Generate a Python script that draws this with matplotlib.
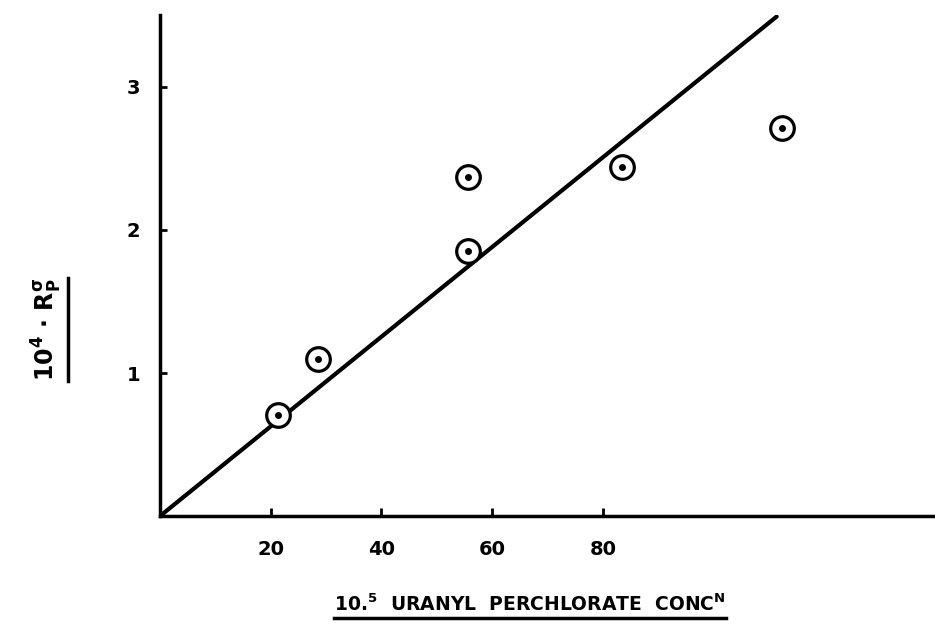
import matplotlib
matplotlib.use("Agg")
import matplotlib.pyplot as plt
from matplotlib.lines import Line2D

# values
conc = [21.3, 28.5, 55.7, 55.7, 83.4, 112.3]   # 10^5 uranyl perchlorate conc
rate = [0.71, 1.10, 2.37, 1.85, 2.44, 2.71]    # 10^4 . Rp
fit_x = [0, 111.4]
fit_y = [0, 3.49]
xticks = [20, 40, 60, 80]
yticks = [1, 2, 3]

plt.rcParams['font.family'] = ['DejaVu Sans']
plt.rcParams['font.weight'] = 'bold'
plt.rcParams['mathtext.default'] = 'bf'

fig = plt.figure(figsize=(9.35, 6.31), dpi=100)
ax = fig.add_axes([0.171, 0.182, 0.829, 0.794])

ax.plot(fit_x, fit_y, color='black', lw=3, solid_capstyle='round')
ax.plot(conc, rate, 'o', ms=17, mfc='white', mec='black', mew=2.3)
ax.plot(conc, rate, 'o', ms=4, color='black')

ax.set_xlim(0, 140)
ax.set_ylim(0, 3.5)
ax.set_xticks(xticks)
ax.set_yticks(yticks)
ax.set_xticklabels([str(t) for t in xticks], fontsize=14, fontweight='bold')
ax.set_yticklabels([str(t) for t in yticks], fontsize=14, fontweight='bold')
ax.tick_params(axis='x', direction='in', length=6, width=2, pad=17)
ax.tick_params(axis='y', direction='in', length=5, width=2, pad=14)

for side in ['top', 'right']:
    ax.spines[side].set_visible(False)
for side in ['left', 'bottom']:
    ax.spines[side].set_linewidth(2.5)

xlab = fig.text(0.567, 0.025, r'10.$^{5}$  URANYL  PERCHLORATE  CONC$^{N}$',
                fontsize=13.5, fontweight='bold', ha='center', va='bottom')
ylab = fig.text(0.05, 0.478, r'10$^{4}$ $\cdot$ R$_{P}^{\sigma}$',
                fontsize=17, fontweight='bold', rotation=90, ha='center', va='center')

# hand-drawn underlines below the axis titles
fig.canvas.draw()
r = fig.canvas.get_renderer()
inv = fig.transFigure.inverted()
bb = xlab.get_window_extent(r).transformed(inv)
fig.add_artist(Line2D([bb.x0, bb.x1], [bb.y0 - 0.005, bb.y0 - 0.005],
                      transform=fig.transFigure, color='black', lw=2.5))
bb = ylab.get_window_extent(r).transformed(inv)
fig.add_artist(Line2D([bb.x1 + 0.004, bb.x1 + 0.004], [bb.y0, bb.y1],
                      transform=fig.transFigure, color='black', lw=2.5))

fig.savefig('out.png', dpi=100)
